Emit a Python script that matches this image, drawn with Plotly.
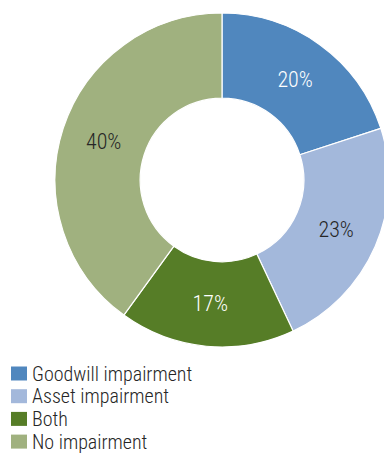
import plotly.graph_objects as go

# Share of companies by impairment type
categories = ["Goodwill impairment", "Asset impairment", "Both", "No impairment"]
shares = [20, 23, 17, 40]
colors = ["#5087BE", "#A3B8DB", "#567D27", "#A0B17F"]
label_colors = ["#FFFFFF", "#262626", "#FFFFFF", "#262626"]

W, H = 444, 453
FONT = "Roboto Condensed"


def px_x(x):
    return x / W


def px_y(y):
    return 1 - y / H


fig = go.Figure(
    go.Pie(
        labels=categories,
        values=shares,
        hole=0.49,
        sort=False,
        direction="clockwise",
        rotation=0,
        marker=dict(colors=colors, line=dict(color="#FFFFFF", width=1.2)),
        textinfo="percent",
        textposition="inside",
        insidetextorientation="horizontal",
        insidetextfont=dict(family=FONT, size=22, weight=300, color=label_colors),
        hoverinfo="label+percent",
        showlegend=False,
        domain=dict(x=[px_x(55), px_x(389)], y=[px_y(347), px_y(13)]),
    )
)

# Legend drawn as swatches with labels, stacked under the donut
shapes = []
annotations = []
row_first = 373.5
row_step = 22.7
for i, (name, col) in enumerate(zip(categories, colors)):
    cy = row_first + i * row_step
    shapes.append(
        dict(
            type="rect", xref="paper", yref="paper",
            x0=px_x(11), x1=px_x(27), y0=px_y(cy + 7), y1=px_y(cy - 7),
            fillcolor=col, line=dict(width=0),
        )
    )
    annotations.append(
        dict(
            text=name, xref="paper", yref="paper",
            x=px_x(29.5), y=px_y(cy), xanchor="left", yanchor="middle",
            showarrow=False,
            font=dict(family=FONT, size=20, weight=300, color="#262626"),
        )
    )

fig.update_layout(
    width=W,
    height=H,
    margin=dict(l=0, r=0, t=0, b=0),
    paper_bgcolor="#FFFFFF",
    plot_bgcolor="#FFFFFF",
    shapes=shapes,
    annotations=annotations,
)

fig.write_html(
    "out.html",
    post_script="document.documentElement.style.overflow='hidden';document.body.style.overflow='hidden';",
)
